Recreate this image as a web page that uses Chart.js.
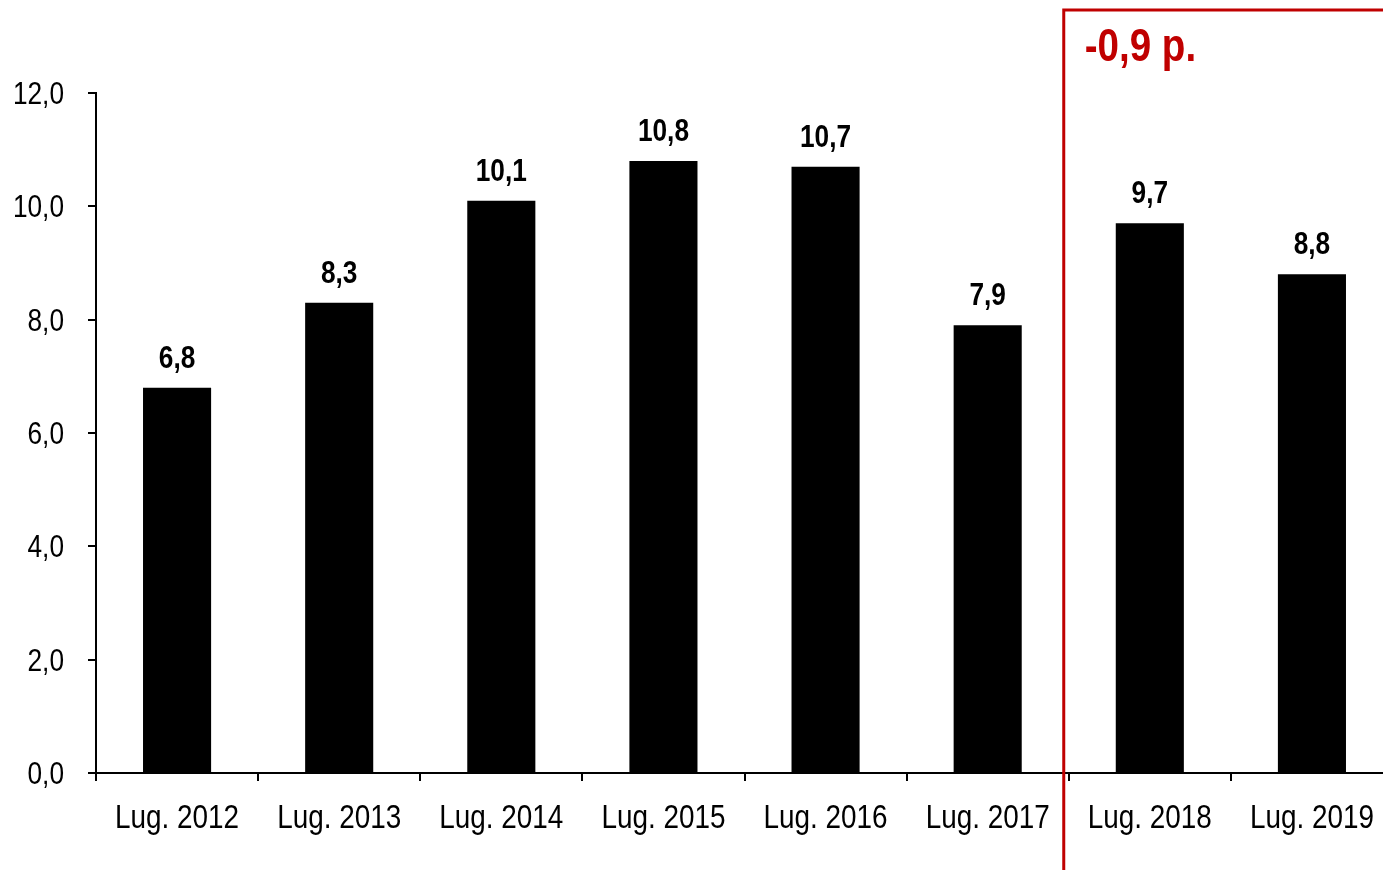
<!DOCTYPE html>
<html>
<head>
<meta charset="utf-8">
<script src="https://cdn.jsdelivr.net/npm/chart.js"></script>
<style>
  html, body { margin: 0; background: #fff; overflow: hidden; }
  #wrap { width: 1383px; height: 870px; overflow: hidden; }
</style>
</head>
<body>
<div id="wrap"><canvas id="myChart" width="1393" height="870"></canvas></div>
<script>
const categories = ['Lug. 2012', 'Lug. 2013', 'Lug. 2014', 'Lug. 2015', 'Lug. 2016', 'Lug. 2017', 'Lug. 2018', 'Lug. 2019'];
const values = [6.8, 8.3, 10.1, 10.8, 10.7, 7.9, 9.7, 8.8];
const yTicks = [0, 2, 4, 6, 8, 10, 12];
const boxLabel = '-0,9 p.';
const boxFrom = 6; // index of first category inside the red box

const FONT = '"Liberation Sans", Arial, sans-serif';
const SQUEEZE = 0.82; // no narrow font installed, so squeeze the text by hand
const fmt = v => v.toFixed(1).replace('.', ',');

// text drawn narrower than the font, like Arial Narrow
function narrowText(ctx, text, x, y, align) {
    ctx.save();
    ctx.translate(x, y);
    ctx.scale(SQUEEZE, 1);
    ctx.textAlign = align;
    ctx.fillText(text, 0, 0);
    ctx.restore();
}

const overlay = {
    id: 'overlay',
    afterDraw(chart) {
        const ctx = chart.ctx;
        const x = chart.scales.x;
        const y = chart.scales.y;
        const meta = chart.getDatasetMeta(0);
        ctx.save();
        ctx.fillStyle = '#000';
        ctx.textBaseline = 'alphabetic';

        // axis labels
        ctx.font = '32px ' + FONT;
        yTicks.forEach(v => narrowText(ctx, fmt(v), y.right - 32, y.getPixelForValue(v) + 11, 'right'));
        ctx.font = '34px ' + FONT;
        categories.forEach((c, i) => narrowText(ctx, c, x.getPixelForValue(i), 828, 'center'));

        // value labels
        ctx.font = 'bold 32px ' + FONT;
        meta.data.forEach((bar, i) => narrowText(ctx, fmt(values[i]), bar.x, bar.y - 20, 'center'));

        // red box around the last two years
        const left = (x.getPixelForValue(boxFrom - 1) + x.getPixelForValue(boxFrom)) / 2 - 5;
        ctx.strokeStyle = '#C00000';
        ctx.lineWidth = 3;
        ctx.beginPath();
        ctx.moveTo(left, chart.height + 5);
        ctx.lineTo(left, 10);
        ctx.lineTo(chart.width + 5, 10);
        ctx.stroke();
        ctx.fillStyle = '#C00000';
        ctx.font = 'bold 47px ' + FONT;
        narrowText(ctx, boxLabel, left + 21, 61, 'left');
        ctx.restore();
    }
};

const ctx = document.getElementById('myChart').getContext('2d');
const myChart = new Chart(ctx, {
    type: 'bar',
    data: {
        labels: categories,
        datasets: [{
            data: values,
            backgroundColor: '#000',
            borderWidth: 0,
            barPercentage: 0.42,
            categoryPercentage: 1
        }]
    },
    options: {
        responsive: false,
        animation: false,
        layout: { padding: { top: 93, right: 0, left: 0, bottom: 0 } },
        plugins: { legend: { display: false }, tooltip: { enabled: false } },
        scales: {
            x: {
                border: { color: '#000', width: 2 },
                grid: { drawOnChartArea: false, color: '#000', lineWidth: 2, tickLength: 8 },
                ticks: { display: false },
                afterFit(s) { s.height = 97; }
            },
            y: {
                min: 0,
                max: 12,
                afterBuildTicks(s) { s.ticks = yTicks.map(v => ({ value: v })); },
                border: { color: '#000', width: 2 },
                grid: { drawOnChartArea: false, color: '#000', lineWidth: 2, tickLength: 8 },
                ticks: { display: false },
                afterFit(s) { s.width = 96; }
            }
        }
    },
    plugins: [overlay]
});
</script>
</body>
</html>
